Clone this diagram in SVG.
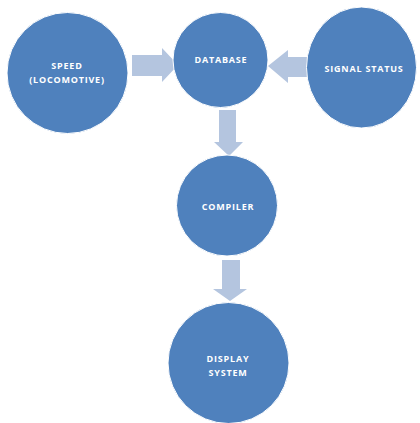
<svg xmlns="http://www.w3.org/2000/svg" width="420" height="423" viewBox="0 0 420 423">
<style>
.node{fill:#4F81BD;stroke:#ffffff;stroke-width:1}
.arrow{fill:#B4C5DF}
.lbl{font-family:"Open Sans","Liberation Sans",sans-serif;font-weight:bold;font-size:9px;fill:#ffffff;text-anchor:middle;letter-spacing:0.8px}
</style>
<rect width="420" height="423" fill="#ffffff"/>
<g id="connectors">
<polygon class="arrow" points="132,55 162,55 162,48 178,65 162,82 162,76 132,76"/>
<polygon class="arrow" points="310,57 288,57 288,50 268,66 288,83 288,77 310,77"/>
<polygon class="arrow" points="219,110 236,110 236,142 243,142 229,156 214,142 219,142"/>
<polygon class="arrow" points="222,260 240,260 240,289 247,289 230,301 213,289 222,289"/>
</g>
<g id="speed">
<circle class="node" cx="67.5" cy="73" r="60.5"/>
<text class="lbl" x="67" y="69">SPEED</text>
<text class="lbl" x="67" y="83">(LOCOMOTIVE)</text>
</g>
<g id="database">
<circle class="node" cx="220.5" cy="60" r="47.5"/>
<text class="lbl" x="221" y="63">DATABASE</text>
</g>
<g id="signal">
<ellipse class="node" cx="361.5" cy="67.5" rx="55" ry="60.5"/>
<text class="lbl" x="364" y="72">SIGNAL STATUS</text>
</g>
<g id="compiler">
<circle class="node" cx="227" cy="205.5" r="50.5"/>
<text class="lbl" x="228" y="210">COMPILER</text>
</g>
<g id="display">
<circle class="node" cx="228.5" cy="363" r="60.5"/>
<text class="lbl" x="228" y="362">DISPLAY</text>
<text class="lbl" x="228" y="376">SYSTEM</text>
</g>
</svg>
